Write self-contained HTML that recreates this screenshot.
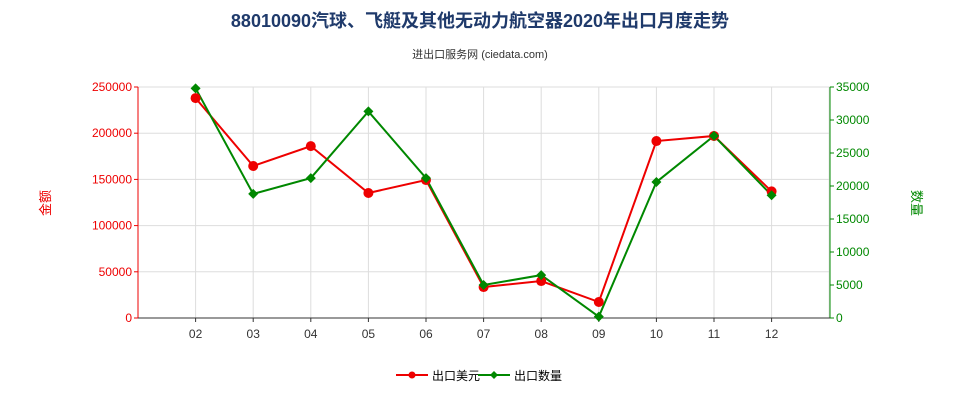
<!DOCTYPE html>
<html><head><meta charset="utf-8"><style>
body{margin:0;background:#fff;font-family:"Liberation Sans","Noto Sans CJK SC",sans-serif;}
svg text{font-family:"Liberation Sans","Noto Sans CJK SC",sans-serif;}
</style></head><body>
<svg id="chart" width="960" height="400" xmlns="http://www.w3.org/2000/svg">
<text x="480" y="27" text-anchor="middle" font-size="18" font-weight="bold" fill="#1f3a6b">88010090汽球、飞艇及其他无动力航空器2020年出口月度走势</text>
<text x="480" y="58" text-anchor="middle" font-size="11" fill="#333">进出口服务网 (ciedata.com)</text>
<text x="50" y="203" text-anchor="middle" font-size="13" fill="#e00" transform="rotate(-90 50 203)">金额</text>
<text x="912" y="203" text-anchor="middle" font-size="13" fill="#080" transform="rotate(90 912 203)">数量</text>
<g id="grid"></g><g id="axes"></g><g id="series"></g>
<g>
<g>
<line x1="396" y1="375" x2="428" y2="375" stroke="#e00" stroke-width="2"/><circle cx="412" cy="375" r="3.5" fill="#e00"/>
<text x="432" y="380" font-size="12" fill="#000">出口美元</text></g>
<g>
<line x1="478" y1="375" x2="510" y2="375" stroke="#080" stroke-width="2"/><path d="M494 371 L498 375 L494 379 L490 375Z" fill="#080"/>
<text x="514" y="380" font-size="12" fill="#000">出口数量</text></g>
</g>
</svg>
<script>
const categories=["02","03","04","05","06","07","08","09","10","11","12"];
const usdValues=[238000,164500,186000,135300,149300,33500,40000,17300,191500,197000,137000];
const qtyValues=[34800,18800,21200,31300,21200,5000,6500,200,20600,27600,18600];
const leftTicks=[0,50000,100000,150000,200000,250000];
const rightTicks=[0,5000,10000,15000,20000,25000,30000,35000];
const NS="http://www.w3.org/2000/svg";
const X0=138,X1=830,Y0=318,Y1=87,STEP=57.6;
const xPos=i=>X0+(i+1)*STEP;
const yL=v=>Y0-(v/250000)*(Y0-Y1);
const yR=v=>Y0-(v/35000)*(Y0-Y1);
function mk(tag,attrs,parent){const e=document.createElementNS(NS,tag);for(const k in attrs)e.setAttribute(k,attrs[k]);parent.appendChild(e);return e;}
const grid=document.getElementById('grid'),axes=document.getElementById('axes'),ser=document.getElementById('series');
leftTicks.forEach(t=>{const y=yL(t);
 const l=mk('line',{x1:X0,x2:X1,y1:y,y2:y,stroke:'#ddd'},grid);
 
 
 const tx=mk('text',{x:X0-6,y:y+4,'text-anchor':'end','font-size':12,fill:'#e00'},axes);tx.textContent=t;
 
 
 mk('line',{x1:X0-4,x2:X0,y1:y,y2:y,stroke:'#e00'},axes);});
rightTicks.forEach(t=>{const y=yR(t);
 const tx=mk('text',{x:X1+6,y:y+4,'font-size':12,fill:'#080'},axes);tx.textContent=t;
 
 
 mk('line',{x1:X1,x2:X1+4,y1:y,y2:y,stroke:'#080'},axes);});
for(let i=-1;i<=categories.length;i++){const x=xPos(i);if(x<X0||x>X1)continue;
 const l=mk('line',{x1:x,x2:x,y1:Y1,y2:Y0,stroke:'#ddd'},grid);
 
 }
categories.forEach((c,i)=>{const x=xPos(i);
 const tx=mk('text',{x:x,y:Y0+20,'text-anchor':'middle','font-size':12,fill:'#333'},axes);tx.textContent=c;
 
 
 mk('line',{x1:x,x2:x,y1:Y0,y2:Y0+4,stroke:'#333'},axes);});
mk('line',{x1:X0,x2:X0,y1:Y1,y2:Y0,stroke:'#e00'},axes);
mk('line',{x1:X1,x2:X1,y1:Y1,y2:Y0,stroke:'#080'},axes);
mk('line',{x1:X0,x2:X1,y1:Y0,y2:Y0,stroke:'#333'},axes);
const pu=mk('polyline',{points:usdValues.map((v,i)=>xPos(i)+','+yL(v)).join(' '),fill:'none',stroke:'#e00','stroke-width':2},ser);


const pq=mk('polyline',{points:qtyValues.map((v,i)=>xPos(i)+','+yR(v)).join(' '),fill:'none',stroke:'#080','stroke-width':2},ser);


usdValues.forEach((v,i)=>{const c=mk('circle',{cx:xPos(i),cy:yL(v),r:5,fill:'#e00'},ser);
 
 });
qtyValues.forEach((v,i)=>{const x=xPos(i),y=yR(v);
 const p=mk('path',{d:`M${x} ${y-5}L${x+5} ${y}L${x} ${y+5}L${x-5} ${y}Z`,fill:'#080'},ser);
 
 });
</script>
</body></html>
